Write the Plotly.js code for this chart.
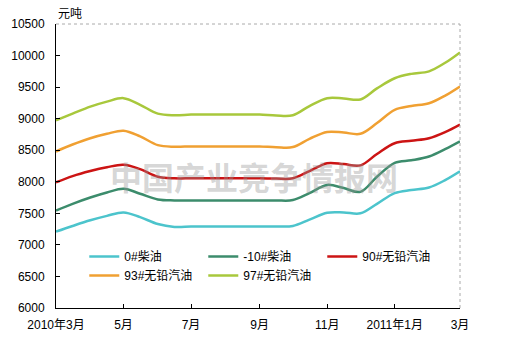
<!DOCTYPE html>
<html>
<head>
<meta charset="utf-8">
<script src="https://cdn.plot.ly/plotly-3.0.1.min.js"></script>
<style>html,body{margin:0;padding:0;background:#fff;}#chart{width:506px;height:353px;}</style>
</head>
<body>
<div id="chart"></div>
<script>
const dates = ["2010-03-01","2010-03-16","2010-04-01","2010-04-16","2010-05-01","2010-05-16","2010-06-01","2010-06-16",
  "2010-07-01","2010-07-16","2010-08-01","2010-08-16","2010-09-01","2010-09-16","2010-10-01","2010-10-16",
  "2010-11-01","2010-11-16","2010-12-01","2010-12-16","2011-01-01","2011-01-16","2011-02-01","2011-02-16","2011-03-01"];
const seriesNames = ["0#柴油","-10#柴油","90#无铅汽油","93#无铅汽油","97#无铅汽油"];
const diesel0   = [7210,7300,7390,7460,7515,7440,7330,7285,7290,7290,7290,7290,7290,7292,7300,7400,7510,7515,7500,7650,7820,7870,7910,8030,8165];
const dieselM10 = [7545,7650,7750,7830,7890,7810,7720,7705,7705,7705,7705,7705,7705,7705,7710,7820,7950,7900,7840,8080,8300,8340,8400,8520,8640];
const gas90     = [7990,8090,8170,8230,8270,8200,8080,8055,8055,8055,8055,8055,8055,8050,8055,8170,8295,8280,8260,8440,8610,8650,8690,8790,8905];
const gas93     = [8480,8590,8690,8760,8810,8720,8580,8555,8560,8560,8560,8560,8560,8548,8550,8680,8790,8780,8760,8930,9140,9200,9245,9370,9510];
const gas97     = [8975,9080,9190,9270,9325,9220,9080,9055,9065,9065,9065,9065,9065,9050,9055,9200,9325,9320,9305,9480,9640,9710,9750,9890,10050];
const tickVals = ["2010-03-01","2010-05-01","2010-07-01","2010-09-01","2010-11-01","2011-01-01","2011-03-01"];
const tickText = ["2010年3月","5月","7月","9月","11月","2011年1月","3月"];
const yUnit = "元吨";
const watermark = "中国产业竞争情报网";

const colors = ["#4CC4CC","#3C8C6C","#CC1414","#F0A032","#A8C83C"];
const allValues = [diesel0, dieselM10, gas90, gas93, gas97];
const font = "Liberation Sans, Arial, Noto Sans CJK SC, sans-serif";

const traces = allValues.map((vals, i) => ({
  x: dates, y: vals, name: seriesNames[i], type: "scatter", mode: "lines",
  line: {color: colors[i], width: 2.5, shape: "spline", smoothing: 1}
}));

const layout = {
  width: 506, height: 353,
  margin: {l: 56, r: 46, t: 24, b: 45},
  paper_bgcolor: "#fff", plot_bgcolor: "#fff",
  font: {family: font, size: 12, color: "#000"},
  showlegend: true,
  legend: {orientation: "h", x: 0.07, xanchor: "left", y: 0.232, yanchor: "top",
    entrywidth: 74, entrywidthmode: "pixels", bgcolor: "rgba(0,0,0,0)",
    font: {family: font, size: 12, color: "#000"}, traceorder: "normal"},
  xaxis: {type: "date", range: ["2010-03-01","2011-03-01"], tickmode: "array",
    tickvals: tickVals, ticktext: tickText, ticks: "inside", ticklen: 4, tickcolor: "#000",
    showgrid: false, zeroline: false, showline: true, linecolor: "#000", linewidth: 1,
    ticklabelstandoff: 6, fixedrange: true},
  yaxis: {range: [6000,10500], dtick: 500, tick0: 6000, tickformat: "d", ticks: "inside", ticklen: 4,
    tickcolor: "#000", showgrid: false, zeroline: false, showline: true, linecolor: "#000", linewidth: 1,
    ticklabelstandoff: 8, fixedrange: true},
  shapes: [
    {type: "line", xref: "paper", yref: "paper", x0: 0, x1: 1, y0: 1, y1: 1, line: {color: "#aaa", width: 1, dash: "dot"}},
    {type: "line", xref: "paper", yref: "paper", x0: 1, x1: 1, y0: 0, y1: 1, line: {color: "#aaa", width: 1, dash: "dot"}}
  ],
  annotations: [
    {text: yUnit, xref: "paper", yref: "paper", x: 0, y: 1, xanchor: "left", yanchor: "bottom", yshift: 1,
     showarrow: false, font: {family: "Noto Sans CJK SC, sans-serif", size: 12, color: "#000"}},
    {text: watermark, xref: "paper", yref: "paper", x: 0.49, y: 0.465, xanchor: "center", yanchor: "middle",
     showarrow: false, font: {family: "Noto Sans CJK SC, sans-serif", size: 32, color: "rgba(150,150,150,0.4)", weight: 700}}
  ]
};
Plotly.newPlot("chart", traces, layout, {displayModeBar: false, staticPlot: true});
</script>
</body>
</html>
